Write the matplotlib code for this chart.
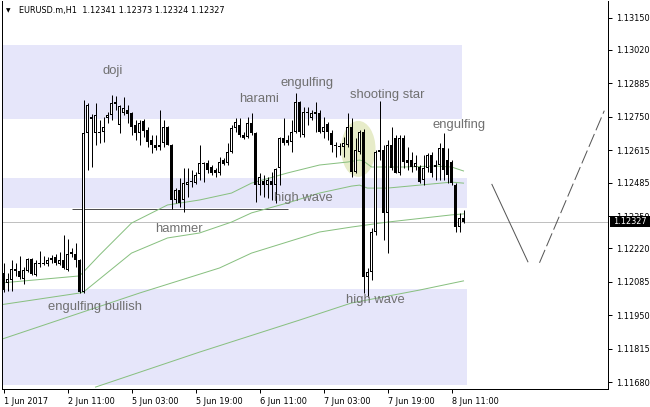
import matplotlib
matplotlib.use('Agg')
import matplotlib.pyplot as plt
from matplotlib.patches import Rectangle, Ellipse

# ---------------- data (H1 EURUSD, 1 Jun 19:00 .. 8 Jun 14:00) ----------------
opens = [1.12121, 1.12080, 1.12093, 1.12137, 1.12129, 1.12097, 1.12129, 1.12177, 1.12113, 1.12157,
         1.12157, 1.12157, 1.12173, 1.12185, 1.12157, 1.12173, 1.12133, 1.12197, 1.12197, 1.12173,
         1.12044, 1.12685, 1.12750, 1.12685, 1.12689, 1.12689, 1.12745, 1.12758, 1.12810, 1.12717,
         1.12766, 1.12778, 1.12766, 1.12717, 1.12685, 1.12733, 1.12697, 1.12657, 1.12637, 1.12637,
         1.12645, 1.12709, 1.12637, 1.12415, 1.12455, 1.12415, 1.12475, 1.12487, 1.12483, 1.12520,
         1.12564, 1.12564, 1.12548, 1.12536, 1.12524, 1.12576, 1.12564, 1.12608, 1.12705, 1.12717,
         1.12677, 1.12669, 1.12725, 1.12685, 1.12475, 1.12492, 1.12475, 1.12492, 1.12475, 1.12544,
         1.12665, 1.12657, 1.12649, 1.12689, 1.12810, 1.12677, 1.12770, 1.12745, 1.12770, 1.12766,
         1.12689, 1.12721, 1.12685, 1.12637, 1.12633, 1.12629, 1.12637, 1.12709, 1.12528, 1.12608,
         1.12689, 1.12105, 1.12125, 1.12286, 1.12608, 1.12616, 1.12363, 1.12637, 1.12665, 1.12524,
         1.12665, 1.12576, 1.12576, 1.12548, 1.12548, 1.12496, 1.12544, 1.12596, 1.12556, 1.12556,
         1.12625, 1.12576, 1.12568, 1.12475, 1.12306, 1.12341]
highs = [1.12161, 1.12121, 1.12173, 1.12161, 1.12189, 1.12145, 1.12181, 1.12180, 1.12173, 1.12209,
         1.12189, 1.12185, 1.12193, 1.12197, 1.12205, 1.12274, 1.12258, 1.12222, 1.12242, 1.12176,
         1.12818, 1.12806, 1.12760, 1.12806, 1.12737, 1.12750, 1.12770, 1.12838, 1.12834, 1.12798,
         1.12830, 1.12798, 1.12770, 1.12737, 1.12737, 1.12741, 1.12709, 1.12677, 1.12677, 1.12778,
         1.12737, 1.12713, 1.12641, 1.12463, 1.12504, 1.12544, 1.12544, 1.12536, 1.12528, 1.12637,
         1.12568, 1.12576, 1.12556, 1.12544, 1.12588, 1.12584, 1.12645, 1.12717, 1.12745, 1.12745,
         1.12689, 1.12750, 1.12766, 1.12689, 1.12524, 1.12516, 1.12508, 1.12528, 1.12544, 1.12669,
         1.12745, 1.12677, 1.12737, 1.12846, 1.12814, 1.12790, 1.12790, 1.12778, 1.12810, 1.12778,
         1.12750, 1.12729, 1.12697, 1.12649, 1.12645, 1.12669, 1.12766, 1.12745, 1.12665, 1.12697,
         1.12701, 1.12141, 1.12302, 1.12616, 1.12814, 1.12637, 1.12657, 1.12709, 1.12677, 1.12677,
         1.12677, 1.12629, 1.12608, 1.12596, 1.12556, 1.12596, 1.12604, 1.12608, 1.12576, 1.12645,
         1.12685, 1.12625, 1.12576, 1.12483, 1.12363, 1.12373]
lows = [1.12044, 1.12048, 1.12048, 1.12109, 1.12097, 1.12076, 1.12125, 1.12113, 1.12109, 1.12145,
        1.12153, 1.12149, 1.12161, 1.12153, 1.12153, 1.12137, 1.12129, 1.12185, 1.12145, 1.12040,
        1.12040, 1.12536, 1.12548, 1.12637, 1.12645, 1.12649, 1.12725, 1.12737, 1.12778, 1.12685,
        1.12758, 1.12725, 1.12677, 1.12657, 1.12637, 1.12669, 1.12629, 1.12604, 1.12616, 1.12616,
        1.12629, 1.12637, 1.12379, 1.12403, 1.12387, 1.12367, 1.12427, 1.12467, 1.12479, 1.12496,
        1.12487, 1.12524, 1.12516, 1.12508, 1.12516, 1.12556, 1.12556, 1.12604, 1.12689, 1.12669,
        1.12661, 1.12665, 1.12677, 1.12407, 1.12435, 1.12427, 1.12423, 1.12415, 1.12403, 1.12475,
        1.12637, 1.12637, 1.12608, 1.12685, 1.12669, 1.12669, 1.12717, 1.12737, 1.12689, 1.12685,
        1.12665, 1.12657, 1.12608, 1.12588, 1.12596, 1.12588, 1.12629, 1.12508, 1.12524, 1.12600,
        1.12040, 1.12024, 1.12093, 1.12274, 1.12576, 1.12254, 1.12201, 1.12536, 1.12524, 1.12516,
        1.12544, 1.12536, 1.12528, 1.12536, 1.12483, 1.12475, 1.12528, 1.12508, 1.12496, 1.12496,
        1.12496, 1.12483, 1.12475, 1.12286, 1.12286, 1.12324]
closes = [1.12052, 1.12097, 1.12137, 1.12129, 1.12105, 1.12133, 1.12177, 1.12117, 1.12161, 1.12161,
          1.12161, 1.12173, 1.12181, 1.12161, 1.12173, 1.12141, 1.12197, 1.12205, 1.12173, 1.12044,
          1.12685, 1.12798, 1.12741, 1.12758, 1.12685, 1.12709, 1.12758, 1.12806, 1.12802, 1.12794,
          1.12786, 1.12762, 1.12709, 1.12685, 1.12725, 1.12693, 1.12649, 1.12637, 1.12625, 1.12629,
          1.12709, 1.12637, 1.12415, 1.12455, 1.12403, 1.12483, 1.12487, 1.12492, 1.12516, 1.12564,
          1.12560, 1.12536, 1.12524, 1.12524, 1.12568, 1.12560, 1.12608, 1.12705, 1.12729, 1.12677,
          1.12665, 1.12725, 1.12685, 1.12475, 1.12508, 1.12475, 1.12496, 1.12475, 1.12540, 1.12665,
          1.12645, 1.12645, 1.12689, 1.12810, 1.12689, 1.12770, 1.12766, 1.12766, 1.12762, 1.12689,
          1.12709, 1.12689, 1.12637, 1.12633, 1.12631, 1.12645, 1.12709, 1.12528, 1.12616, 1.12689,
          1.12105, 1.12125, 1.12286, 1.12608, 1.12616, 1.12363, 1.12637, 1.12544, 1.12524, 1.12665,
          1.12568, 1.12564, 1.12548, 1.12564, 1.12487, 1.12544, 1.12596, 1.12524, 1.12548, 1.12625,
          1.12536, 1.12516, 1.12483, 1.12306, 1.12342, 1.12327]

# moving averages (bar index, price)
ma1_idx = [-1, 19, 20, 24, 32, 41, 49, 57, 62, 71, 79, 86, 89, 90, 92, 100, 108, 112, 115]
ma1_val = [1.12080, 1.12109, 1.12125, 1.12193, 1.12322, 1.12395, 1.12415, 1.12443, 1.12483, 1.12524,
           1.12556, 1.12568, 1.12576, 1.12572, 1.12548, 1.12548, 1.12552, 1.12548, 1.12532]
ma2_idx = [-1, 19, 20, 32, 41, 49, 57, 62, 71, 79, 87, 89, 91, 96, 104, 112, 115]
ma2_val = [1.11992, 1.12040, 1.12044, 1.12201, 1.12262, 1.12282, 1.12326, 1.12363, 1.12403, 1.12443,
           1.12471, 1.12475, 1.12463, 1.12463, 1.12475, 1.12487, 1.12483]
ma3_idx = [-1, 34, 54, 62, 71, 79, 87, 96, 112, 115]
ma3_val = [1.11851, 1.12040, 1.12141, 1.12201, 1.12246, 1.12286, 1.12306, 1.12326, 1.12355, 1.12359]
ma4_idx = [23, 49, 74, 87, 104, 115]
ma4_val = [1.11661, 1.11802, 1.11931, 1.12000, 1.12052, 1.12089]

# zones (price ranges) and their right end (bar index)
zone_lo = [1.12743, 1.12383, 1.11670]
zone_hi = [1.13040, 1.12504, 1.12056]
zone_end = [114.7, 115.9, 115.9]

support_level = 1.12379
support_from, support_to = 17, 71
last_price = 1.12327

proj_solid_idx = [122.1, 131.1]
proj_solid_val = [1.12478, 1.12166]
proj_dash_idx = [134.0, 150.2]
proj_dash_val = [1.12162, 1.12775]

pattern_labels = ['doji', 'harami', 'engulfing', 'shooting star', 'engulfing',
                  'high wave', 'hammer', 'engulfing bullish', 'high wave']
pattern_idx = [27.2, 63.9, 75.9, 95.9, 113.9, 74.9, 43.9, 22.9, 92.9]
pattern_val = [1.12935, 1.12822, 1.12887, 1.12838, 1.12717, 1.12423, 1.12298, 1.11984, 1.12012]

x_tick_idx = [0, 16, 32, 48, 64, 80, 96, 112]
x_tick_labels = ['1 Jun 2017', '2 Jun 11:00', '5 Jun 03:00', '5 Jun 19:00',
                 '6 Jun 11:00', '7 Jun 03:00', '7 Jun 19:00', '8 Jun 11:00']
y_ticks = [1.11680, 1.11815, 1.11950, 1.12085, 1.12220, 1.12350,
           1.12485, 1.12615, 1.12750, 1.12885, 1.13020, 1.13150]
header = 'EURUSD.m,H1  1.12341 1.12373 1.12324 1.12327'

# ---------------- figure ----------------
W, H = 650, 407
fig = plt.figure(figsize=(W / 100, H / 100), dpi=100)
fig.patch.set_facecolor('white')
ax = fig.add_axes([2 / W, 18 / H, 606 / W, 388 / H])

y_top, y_bot = 1.132170, 1.116533
ax.set_ylim(y_bot, y_top)
ax.set_xlim(-0.375, 151.125)
ppx = (y_top - y_bot) / 388.0  # price per pixel

LW = 0.72
# zones
for lo, hi, end in zip(zone_lo, zone_hi, zone_end):
    ax.add_patch(Rectangle((-0.375, lo), end + 0.375, hi - lo, facecolor='#e6e6fa',
                           edgecolor='none', zorder=0.5))

# ellipse highlight
ax.add_patch(Ellipse((88.7, 1.12621), 8.6, 56 * ppx, facecolor='#e7ecc9',
                     edgecolor='none', zorder=0.8))

# current price line & support line
ax.axhline(last_price, color='#c0c0c0', lw=LW, zorder=1)
ax.hlines(support_level, support_from, support_to, color='#505050', lw=LW, zorder=1.2)

# moving averages
for xi, yv in [(ma1_idx, ma1_val), (ma2_idx, ma2_val), (ma3_idx, ma3_val), (ma4_idx, ma4_val)]:
    ax.plot(xi, yv, color='#88c080', lw=LW, zorder=2)

# candles
for k, (o, h, l, c) in enumerate(zip(opens, highs, lows, closes)):
    ax.vlines(k, l, h, color='black', lw=LW, zorder=3)
    top, bot = max(o, c), min(o, c)
    if top - bot < ppx:
        mid = (top + bot) / 2
        top, bot = mid + ppx / 2, mid - ppx / 2
    ax.add_patch(Rectangle((k - 0.375, bot), 0.75, top - bot, facecolor='black',
                           edgecolor='none', zorder=4))
    if c > o and top - bot > 2 * ppx:
        ax.add_patch(Rectangle((k - 0.125, bot + ppx), 0.25, top - bot - 2 * ppx,
                               facecolor='white', edgecolor='none', zorder=5))

# projection lines
ax.plot(proj_solid_idx, proj_solid_val, color='#555555', lw=LW, zorder=2)
ax.plot(proj_dash_idx, proj_dash_val, color='#555555', lw=LW, zorder=2,
        dashes=(14, 4))

# pattern labels
for t, xi, yv in zip(pattern_labels, pattern_idx, pattern_val):
    ax.text(xi, yv, t, ha='center', va='center', fontsize=9.4,
            family='Liberation Sans', color='#707070', zorder=6)

# axes styling
for s in ['top']:
    ax.spines[s].set_visible(False)
for s in ['left', 'right', 'bottom']:
    ax.spines[s].set_linewidth(LW)
    ax.spines[s].set_color('black')
ax.yaxis.tick_right()
ax.set_yticks(y_ticks)
ax.set_yticklabels(['%.5f' % v for v in y_ticks])
ax.set_xticks(x_tick_idx)
ax.set_xticklabels(x_tick_labels, ha='left')
ax.tick_params(axis='y', direction='out', length=3, width=LW, pad=2.5,
               labelsize=5.9, colors='black')
ax.tick_params(axis='x', direction='out', length=3, width=LW, pad=2.5,
               labelsize=5.9, colors='black')

# header
fig.text(8 / W, 1 - 10.5 / H, '\u25bc', fontsize=4.2, ha='center', va='center')
fig.text(19 / W, 1 - 11 / H, header, fontsize=5.9, ha='left', va='center')

# last price box
fig.add_artist(Rectangle((610 / W, 1 - 226.5 / H), 40 / W, 11 / H, transform=fig.transFigure,
                         facecolor='black', edgecolor='none', zorder=10))
fig.text(613 / W, 1 - 221 / H, '%.5f' % last_price, color='white', fontsize=5.9,
         ha='left', va='center', zorder=11)

fig.savefig('out.png', dpi=100)
